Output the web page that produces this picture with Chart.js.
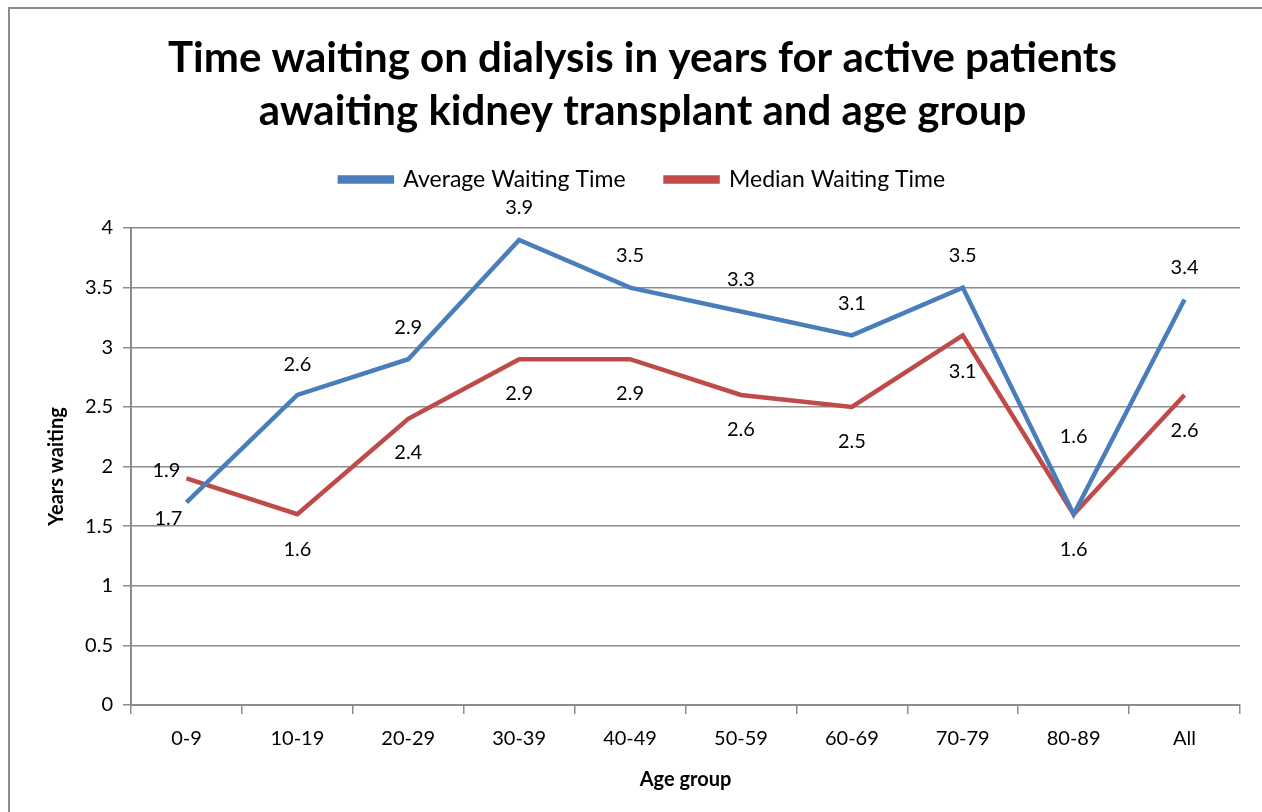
<!DOCTYPE html>
<html>
<head>
<meta charset="utf-8">
<script src="https://cdn.jsdelivr.net/npm/chart.js@4/dist/chart.umd.min.js"></script>
<style>
  html, body { margin: 0; padding: 0; background: #fff; overflow: hidden; width: 1262px; height: 812px; }
  #frame { position: absolute; left: 8px; top: 7px; width: 1300px; height: 900px; border: 2px solid #8c8c8c; box-sizing: border-box; }
  #wrap { position: absolute; left: 0; top: 0; width: 1262px; height: 812px; }
</style>
</head>
<body>
<div id="frame"></div>
<div id="wrap"><canvas id="chart" width="1262" height="812"></canvas></div>
<script>
// ─── DATA ─────────────────────────────────────────────────────────────────────

const ageGroups   = ['0-9', '10-19', '20-29', '30-39', '40-49', '50-59', '60-69', '70-79', '80-89', 'All'];
const averageWait = [1.7, 2.6, 2.9, 3.9, 3.5, 3.3, 3.1, 3.5, 1.6, 3.4];
const medianWait  = [1.9, 1.6, 2.4, 2.9, 2.9, 2.6, 2.5, 3.1, 1.6, 2.6];

const titleLines = ['Time waiting on dialysis in years for active patients', 'awaiting kidney transplant and age group'];

// label offsets (px) relative to each point, like Excel's placement
const avgLabelDx = [-18, 0, 0, 0, 0, 0, 0, 0, 0, 0];
const avgLabelDy = [16, -30, -32, -32, -32, -32, -32, -32, -78, -32];
const medLabelDx = [-20, 0, 0, 0, 0, 0, 0, 0, 0, 0];
const medLabelDy = [-8, 35, 34, 34, 34, 35, 35, 36, 35, 36];

const FONT = "Lato, 'Open Sans', sans-serif";
const BLUE = '#4A7EBB';
const RED  = '#BE4B48';
const GRID = '#8c8c8c';
const LEGEND_HEIGHT = 100;

// ─── PLUGINS ──────────────────────────────────────────────────────────────────

const pointLabels = {
  id: 'pointLabels',
  afterDatasetsDraw(chart) {
    const { ctx } = chart;
    const offs = [[avgLabelDx, avgLabelDy], [medLabelDx, medLabelDy]];
    ctx.save();
    ctx.font = `20px ${FONT}`;
    ctx.fillStyle = '#000';
    ctx.textAlign = 'center';
    ctx.textBaseline = 'middle';
    chart.data.datasets.forEach((ds, di) => {
      const meta = chart.getDatasetMeta(di);
      meta.data.forEach((pt, i) => {
        const [dx, dy] = offs[di];
        ctx.fillText(ds.data[i].toFixed(1), pt.x + dx[i], pt.y + dy[i]);
      });
    });
    ctx.restore();
  }
};

// fixed legend height so the plot starts where the reference does
const legendGap = {
  id: 'legendGap',
  beforeLayout(chart) {
    const lg = chart.legend;
    if (!lg || lg._fixedFit) return;
    const fit = lg.fit;
    lg.fit = function () { fit.call(this); this.height = LEGEND_HEIGHT; };
    lg._fixedFit = true;
  }
};

// ─── CHART ────────────────────────────────────────────────────────────────────

new Chart(document.getElementById('chart'), {
  type: 'line',
  data: {
    labels: ageGroups,
    datasets: [
      {
        label: 'Average Waiting Time',
        data: averageWait,
        borderColor: BLUE,
        backgroundColor: BLUE,
        borderWidth: 4.5,
        pointRadius: 0,
        tension: 0,
      },
      {
        label: 'Median Waiting Time',
        data: medianWait,
        borderColor: RED,
        backgroundColor: RED,
        borderWidth: 4.5,
        pointRadius: 0,
        tension: 0,
      }
    ]
  },
  options: {
    responsive: false,
    animation: false,
    devicePixelRatio: 1,
    layout: { padding: { left: 45, right: 22, top: 10, bottom: 15 } },
    plugins: {
      title: {
        display: true,
        text: titleLines,
        color: '#000',
        font: { family: FONT, size: 42, weight: 'bold', lineHeight: 1.262 },
        padding: { top: 22, bottom: -10 }
      },
      legend: {
        display: true,
        position: 'top',
        labels: {
          color: '#000',
          font: { family: FONT, size: 23 },
          boxWidth: 52,
          boxHeight: 4,
          padding: 40
        }
      },
      tooltip: { enabled: false }
    },
    scales: {
      x: {
        offset: true,
        grid: { offset: true, drawOnChartArea: false, drawTicks: true, tickLength: 9, color: GRID, lineWidth: 1.5 },
        border: { color: GRID, width: 2 },
        ticks: { color: '#000', font: { family: FONT, size: 20 }, padding: 13, maxRotation: 0 },
        title: { display: true, text: 'Age group', color: '#000', font: { family: FONT, size: 20, weight: 'bold' }, padding: { top: 8, bottom: 5 } },
        afterFit: (scale) => { scale.height = 92; }
      },
      y: {
        min: 0,
        max: 4,
        ticks: { stepSize: 0.5, color: '#000', font: { family: FONT, size: 20 }, padding: 10, callback: v => String(v) },
        grid: { color: GRID, lineWidth: 1.5, tickLength: 8 },
        border: { color: GRID, width: 2 },
        title: { display: true, text: 'Years waiting', color: '#000', font: { family: FONT, size: 20, weight: 'bold' }, padding: 0 },
        afterFit: (scale) => { scale.width = 86; }
      }
    }
  },
  plugins: [pointLabels, legendGap]
});
</script>
</body>
</html>
